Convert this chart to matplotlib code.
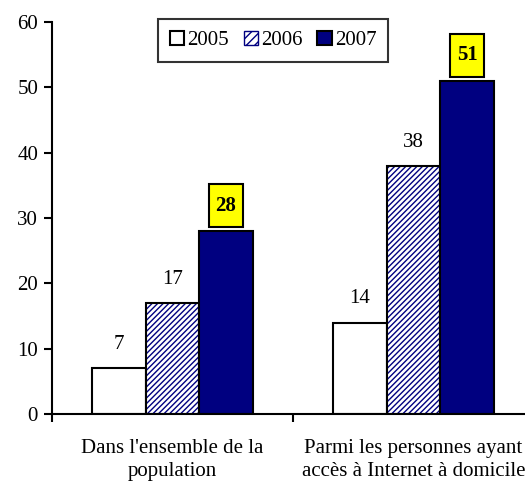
import matplotlib.pyplot as plt
from matplotlib.patches import Patch, Rectangle
import numpy as np

plt.rcParams['font.family'] = ['Liberation Serif', 'DejaVu Serif']

categories = ["Dans l'ensemble de la\npopulation",
              "Parmi les personnes ayant\naccès à Internet à domicile"]
years = ['2005', '2006', '2007']
v2005 = [7, 14]
v2006 = [17, 38]
v2007 = [28, 51]

fig = plt.figure(figsize=(5.25, 4.84), dpi=100)
# axes wider than the figure: the right side is cut off as in the original
ax = fig.add_axes([52 / 525, 1 - 414 / 484, 482 / 525, 392 / 484])

x = np.arange(len(categories)) + 0.5
w = 0.222
navy = '#000080'
fs = 15

ax.bar(x - w, v2005, w, color='white', edgecolor='black', linewidth=1.5)
ax.bar(x, v2006, w, color='white', edgecolor=navy, hatch='//////', linewidth=0)
ax.bar(x, v2006, w, fill=False, edgecolor='black', linewidth=1.5)
ax.bar(x + w, v2007, w, color=navy, edgecolor='black', linewidth=1.5)

handles = [Patch(facecolor='white', edgecolor='black', linewidth=1.5),
           Patch(facecolor='white', edgecolor=navy, hatch='////'),
           Patch(facecolor=navy, edgecolor='black', linewidth=1.5)]
leg = ax.legend(handles, years, loc='upper center', bbox_to_anchor=(0.459, 1.007),
                ncol=3, fontsize=fs, frameon=True, fancybox=False,
                handlelength=0.7, handleheight=0.7, handletextpad=0.15,
                columnspacing=0.7, borderpad=0.55, borderaxespad=0,
                edgecolor='black')
leg.get_frame().set_linewidth(1.5)

for xi, v in zip(x - w, v2005):
    ax.annotate(str(v), (xi, v), xytext=(0, 17), textcoords='offset points',
                ha='center', va='center', fontsize=fs)
for xi, v in zip(x, v2006):
    ax.annotate(str(v), (xi, v), xytext=(0, 17), textcoords='offset points',
                ha='center', va='center', fontsize=fs)

# yellow value boxes for 2007
bw, bh, gap = 0.141, 6.6, 0.6
for xi, v in zip(x + w, v2007):
    ax.add_patch(Rectangle((xi - bw / 2, v + gap), bw, bh, facecolor='yellow',
                           edgecolor='black', linewidth=1.5, clip_on=False,
                           zorder=3))
    ax.text(xi, v + gap + bh / 2, str(v), ha='center', va='center',
            fontsize=fs, fontweight='bold', zorder=4)

ax.set_xlim(0, 2)
ax.set_ylim(0, 60)
ax.set_yticks(range(0, 61, 10))
ax.set_xticks([0, 1, 2])
ax.set_xticklabels([])
ax.set_xticks(x, minor=True)
ax.set_xticklabels(categories, minor=True, fontsize=fs, linespacing=1.3)
ax.tick_params(axis='x', which='minor', length=0, pad=18)
ax.tick_params(axis='x', which='major', length=6, width=1.5, direction='out')
ax.tick_params(axis='y', length=6, width=1.5, direction='out', labelsize=fs, pad=4)
ax.spines['top'].set_visible(False)
ax.spines['right'].set_visible(False)
ax.spines['left'].set_linewidth(1.5)
ax.spines['bottom'].set_linewidth(1.5)

fig.savefig('out.png', dpi=100)
